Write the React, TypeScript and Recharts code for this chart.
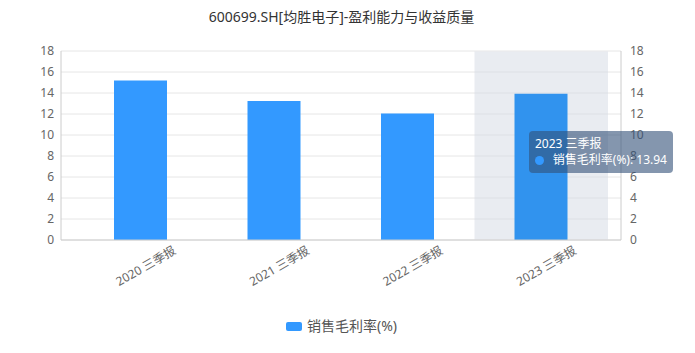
import { Bar, BarChart, CartesianGrid, Cell, Legend, Tooltip, XAxis, YAxis } from 'recharts';

const categories = ['2020 三季报', '2021 三季报', '2022 三季报', '2023 三季报'];
const grossMargin = [15.2, 13.25, 12.04, 13.94];
const yTicks = [0, 2, 4, 6, 8, 10, 12, 14, 16, 18];
const seriesName = '销售毛利率(%)';
const title = '600699.SH[均胜电子]-盈利能力与收益质量';

const colors = ['#3399FF', '#3399FF', '#3399FF', '#3193EE'];
const font = '"Noto Sans", "Noto Sans CJK SC", sans-serif';

const data = categories.map((name, i) => ({ name, value: grossMargin[i] }));

function XTick({ x, y, payload }: any) {
  return (
    <g transform={`translate(${x + 36},${y + 5})`}>
      <text textAnchor="end" transform="rotate(-30)" fill="#666" fontSize={12} fontFamily={font}>
        {payload.value}
      </text>
    </g>
  );
}

function TipBox({ payload, label }: any) {
  if (!payload || !payload.length) return null;
  return (
    <div
      style={{
        background: 'rgba(50,80,120,0.6)',
        borderRadius: 4,
        padding: '5px 6px',
        color: '#fff',
        fontSize: 12,
        lineHeight: '16px',
        fontFamily: font,
        whiteSpace: 'nowrap',
        width: 132,
      }}
    >
      <div>{label}</div>
      <div style={{ display: 'flex', alignItems: 'center' }}>
        <span
          style={{
            display: 'inline-block',
            width: 9,
            height: 9,
            borderRadius: 5,
            background: '#3399FF',
            marginRight: 9,
          }}
        />
        {seriesName}: {payload[0].value}
      </div>
    </div>
  );
}

function LegendBox() {
  return (
    <div style={{ display: 'flex', justifyContent: 'center', alignItems: 'center', fontFamily: font }}>
      <span style={{ width: 16, height: 9, borderRadius: 2, background: '#3399FF', marginRight: 5 }} />
      <span style={{ fontSize: 14, color: '#555', lineHeight: '18px' }}>{seriesName}</span>
    </div>
  );
}

function App() {
  return (
    <div style={{ position: 'absolute', left: 0, top: 0, width: 695, height: 353 }}>
      <div
        style={{
          position: 'absolute',
          top: 7,
          left: -6,
          width: 695,
          textAlign: 'center',
          fontSize: 14,
          lineHeight: '20px',
          color: '#333',
          fontFamily: font,
          zIndex: 1,
        }}
      >
        {title}
      </div>
      <BarChart
        width={695}
        height={353}
        data={data}
        margin={{ top: 51, right: 30, left: 0, bottom: 45 }}
      >
        <CartesianGrid yAxisId="left" vertical={false} stroke="#E6E6E6" />
        <XAxis
          dataKey="name"
          height={50}
          padding={{ left: 13, right: 13 }}
          stroke="#CCCCCC"
          tickLine={false}
          tick={<XTick />}
          interval={0}
        />
        <YAxis
          yAxisId="left"
          width={61}
          domain={[0, 18]}
          ticks={yTicks}
          interval={0}
          stroke="#CCCCCC"
          tickLine={false}
          tickMargin={1}
          tick={{ fill: '#666', fontSize: 12, fontFamily: font }}
        />
        <YAxis
          yAxisId="right"
          orientation="right"
          width={44}
          type="number"
          domain={[0, 18]}
          ticks={yTicks}
          interval={0}
          allowDataOverflow
          stroke="#CCCCCC"
          tickLine={false}
          tickMargin={3}
          tick={{ fill: '#666', fontSize: 12, fontFamily: font, textAnchor: 'start' }}
        />
        <Tooltip
          active
          defaultIndex={3}
          position={{ x: 529, y: 131 }}
          cursor={{ fill: '#D3D9E3', fillOpacity: 0.5 }}
          content={<TipBox />}
          isAnimationActive={false}
        />
        <Legend content={<LegendBox />} wrapperStyle={{ top: 317, left: -6, width: 695 }} />
        <Bar yAxisId="left" dataKey="value" name={seriesName} barSize={53} isAnimationActive={false}>
          {data.map((entry, index) => (
            <Cell key={`cell-${index}`} fill={colors[index % colors.length]} />
          ))}
        </Bar>
      </BarChart>
    </div>
  );
}

export default App;
